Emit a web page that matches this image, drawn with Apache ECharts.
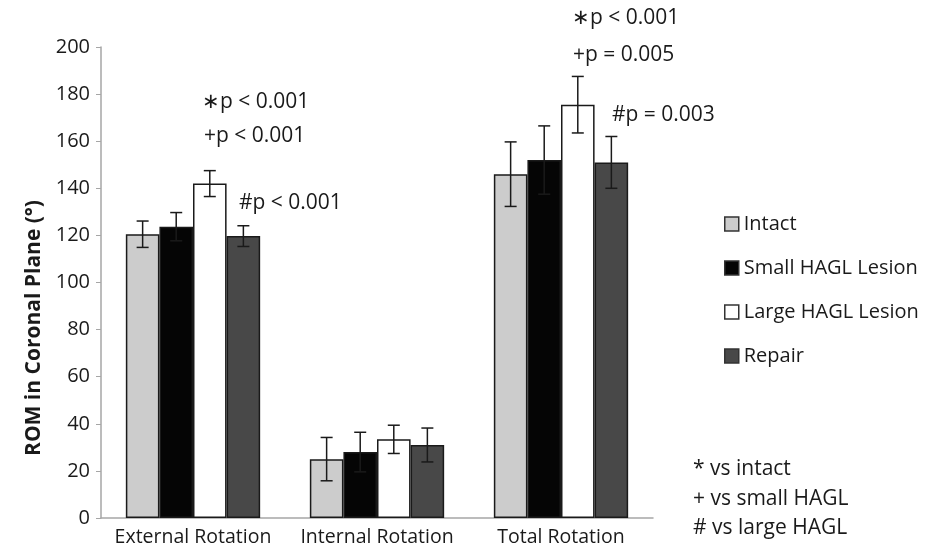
<!DOCTYPE html>
<html><head><meta charset="utf-8">
<script src="https://cdn.jsdelivr.net/npm/echarts@6/dist/echarts.min.js"></script>
<style>html,body{margin:0;padding:0;background:#fff}#c{width:932px;height:551px}</style>
</head><body><div id="c"></div>
<script>
const categories = ['External Rotation', 'Internal Rotation', 'Total Rotation'];
const seriesNames = ['Intact', 'Small HAGL Lesion', 'Large HAGL Lesion', 'Repair'];
const intact = [120.5, 25.0, 146.0];
const smallHAGL = [123.7, 28.0, 152.0];
const largeHAGL = [142.0, 33.4, 175.5];
const repair = [119.7, 31.0, 151.0];
const intactErr = [5.6, 9.2, 13.7];
const smallErr = [6.0, 8.4, 14.5];
const largeErr = [5.5, 6.0, 12.0];
const repairErr = [4.4, 7.2, 11.0];
const yTicks = [0, 20, 40, 60, 80, 100, 120, 140, 160, 180, 200];
const yTitle = 'ROM in Coronal Plane (°)';
const annotations = ['∗p < 0.001', '+p < 0.001', '#p < 0.001', '∗p < 0.001', '+p = 0.005', '#p = 0.003'];
const footnotes = ['* vs intact', '+ vs small HAGL', '# vs large HAGL'];

const FONT = '"Open Sans", sans-serif';
const colors = ['#cccccc', '#050505', '#ffffff', '#484848'];
const values = [intact, smallHAGL, largeHAGL, repair];
const errs = [intactErr, smallErr, largeErr, repairErr];
const catGap = 0.27;

const chart = echarts.init(document.getElementById('c'));
const series = [];
values.forEach((v, i) => {
  series.push({
    name: seriesNames[i], type: 'bar', data: v,
    barGap: '0%', barCategoryGap: (catGap * 100) + '%',
    itemStyle: { color: colors[i], borderColor: '#1a1a1a', borderWidth: 1.5 },
    emphasis: { disabled: true }, z: 2
  });
});
values.forEach((v, i) => {
  series.push({
    type: 'custom', z: 5, silent: true,
    data: v.map((val, k) => [k, val, errs[i][k]]),
    renderItem: function (params, api) {
      const k = api.value(0), m = api.value(1), e = api.value(2);
      const band = api.size([1, 0])[0];
      const groupW = band * (1 - catGap);
      const bw = groupW / 4;
      const c = api.coord([k, m]);
      const x = c[0] - groupW / 2 + bw * (i + 0.5);
      const yt = api.coord([k, m + e])[1];
      const yb = api.coord([k, m - e])[1];
      const cap = 6;
      const st = { stroke: '#1a1a1a', lineWidth: 1.5 };
      return { type: 'group', children: [
        { type: 'line', shape: { x1: x, y1: yt, x2: x, y2: yb }, style: st },
        { type: 'line', shape: { x1: x - cap, y1: yt, x2: x + cap, y2: yt }, style: st },
        { type: 'line', shape: { x1: x - cap, y1: yb, x2: x + cap, y2: yb }, style: st }
      ]};
    }
  });
});

function txt(text, x, y, size) {
  return { type: 'text', x: x, y: y, silent: true,
    style: { text: text, fill: '#1a1a1a', font: size + 'px ' + FONT, verticalAlign: 'middle', align: 'left' } };
}
const annoPos = [[202, 102], [204, 136], [239, 203], [572, 18], [573, 55], [612, 115]];
const footPos = [[693, 469], [693, 499], [693, 528]];
const graphics = [];
annotations.forEach((t, i) => graphics.push(txt(t, annoPos[i][0], annoPos[i][1], 21)));
footnotes.forEach((t, i) => graphics.push(txt(t, footPos[i][0], footPos[i][1], 21)));
graphics.push({ type: 'text', x: 34, y: 328, rotation: Math.PI / 2, silent: true,
  style: { text: yTitle, fill: '#1a1a1a', font: 'bold 21px ' + FONT, align: 'center', verticalAlign: 'middle' } });

chart.setOption({
  animation: false,
  backgroundColor: '#fff',
  grid: { left: 101, right: 279, top: 47, bottom: 33 },
  xAxis: {
    type: 'category', data: categories,
    axisLine: { lineStyle: { color: '#a6a6a6', width: 1.5 } },
    axisTick: { show: false },
    axisLabel: { interval: 0, hideOverlap: false, color: '#1a1a1a', fontSize: 19.5, fontFamily: FONT, margin: 9 }
  },
  yAxis: {
    type: 'value', min: yTicks[0], max: yTicks[yTicks.length - 1], interval: 20,
    axisLine: { show: true, lineStyle: { color: '#a6a6a6', width: 1.5 } },
    axisTick: { show: true, inside: false, length: 5, lineStyle: { color: '#a6a6a6' } },
    splitLine: { show: false },
    axisLabel: { color: '#1a1a1a', fontSize: 20, fontFamily: FONT, margin: 11 }
  },
  legend: {
    orient: 'vertical', left: 719, top: 208, itemGap: 22,
    icon: 'rect', itemWidth: 14, itemHeight: 14,
    data: seriesNames,
    textStyle: { fontSize: 20, lineHeight: 22, fontFamily: FONT, color: '#1a1a1a', padding: [0, 0, 0, 0] },
    itemStyle: { borderColor: '#333', borderWidth: 1.5 }
  },
  graphic: graphics,
  series: series
});
</script></body></html>
